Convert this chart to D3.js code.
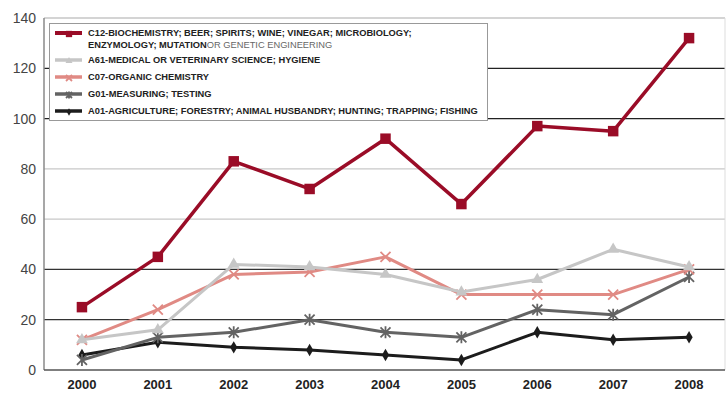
<!DOCTYPE html>
<html>
<head>
<meta charset="utf-8">
<script src="https://cdn.jsdelivr.net/npm/d3@7"></script>
<style>
  body { margin: 0; background: #fff; }
  svg { display: block; font-family: "Liberation Sans", Arial, sans-serif; }
</style>
</head>
<body>
<div class="chart"></div>
<script>
// data
const years = ["2000", "2001", "2002", "2003", "2004", "2005", "2006", "2007", "2008"];
const c12 = [25, 45, 83, 72, 92, 66, 97, 95, 132];
const a61 = [12, 16, 42, 41, 38, 31, 36, 48, 41];
const c07 = [12, 24, 38, 39, 45, 30, 30, 30, 40];
const g01 = [4, 13, 15, 20, 15, 13, 24, 22, 37];
const a01 = [6, 11, 9, 8, 6, 4, 15, 12, 13];
const yTicks = [0, 20, 40, 60, 80, 100, 120, 140];

const series = [
    { key: "C12", values: c12, color: "#9a0c27", width: 3.5, marker: "square", size: 110 },
    { key: "A61", values: a61, color: "#c6c6c6", width: 3, marker: "triangle", size: 60 },
    { key: "C07", values: c07, color: "#e08a84", width: 3, marker: "x", size: 5 },
    { key: "G01", values: g01, color: "#636363", width: 3, marker: "star", size: 5 },
    { key: "A01", values: a01, color: "#1c1c1c", width: 3, marker: "diamond", size: 45 }
];

const W = 727, H = 394;
const margin = { top: 18, right: 0, bottom: 24, left: 44 };
const width = W - margin.left - margin.right;
const height = H - margin.top - margin.bottom;

const svg = d3.select(".chart").append("svg")
    .attr("width", W)
    .attr("height", H);
const g = svg.append("g")
    .attr("transform", `translate(${margin.left},${margin.top})`);

const xScale = d3.scaleBand().domain(years).range([0, width]);
const yScale = d3.scaleLinear().domain([0, 140]).range([height, 0]);

// gridlines (the scan shows some darker than others)
const gridColor = { 20: "#333", 40: "#333", 60: "#c8c8c8", 80: "#c8c8c8", 100: "#222", 120: "#222", 140: "#aaa" };
g.selectAll(".grid")
    .data(yTicks.filter(d => d > 0))
    .enter().append("line")
    .attr("class", "grid")
    .attr("x1", 0).attr("x2", width - 2)
    .attr("y1", d => yScale(d)).attr("y2", d => yScale(d))
    .attr("stroke", d => gridColor[d])
    .attr("stroke-width", 1.2);

// right edge and left axis
g.append("line")
    .attr("x1", width - 2).attr("x2", width - 2)
    .attr("y1", 0).attr("y2", height)
    .attr("stroke", "#ddd");
g.append("line")
    .attr("x1", 0).attr("x2", 0)
    .attr("y1", 0).attr("y2", height)
    .attr("stroke", "#8a8a8a").attr("stroke-width", 1.5);
g.append("line")
    .attr("x1", 0).attr("x2", width - 2)
    .attr("y1", height).attr("y2", height)
    .attr("stroke", "#555").attr("stroke-width", 1.5);

// y tick labels
g.append("g")
    .call(d3.axisLeft(yScale).tickValues(yTicks).tickSize(0).tickPadding(8))
    .call(a => a.select(".domain").remove())
    .selectAll("text")
    .style("font-size", "14px")
    .style("font-family", "Liberation Sans, Arial, sans-serif")
    .attr("fill", "#444");

// x tick labels
g.append("g")
    .attr("transform", `translate(0,${height})`)
    .call(d3.axisBottom(xScale).tickSize(0).tickPadding(10))
    .call(a => a.select(".domain").remove())
    .selectAll("text")
    .style("font-size", "13px")
    .style("font-weight", "bold")
    .style("font-family", "Liberation Sans, Arial, sans-serif")
    .attr("fill", "#222");

function drawMarker(sel, s, scale) {
    const k = scale || 1;
    if (s.marker === "square" || s.marker === "triangle" || s.marker === "diamond") {
        const type = { square: d3.symbolSquare, triangle: d3.symbolTriangle, diamond: d3.symbolDiamond }[s.marker];
        sel.append("path")
            .attr("d", d3.symbol().type(type).size(s.size * k * k)())
            .attr("fill", s.color);
    } else {
        const r = s.size * k;
        let p = `M${-r},${-r}L${r},${r}M${-r},${r}L${r},${-r}`;
        if (s.marker === "star") p += `M0,${-r * 1.2}L0,${r * 1.2}`;
        sel.append("path")
            .attr("d", p)
            .attr("stroke", s.color)
            .attr("stroke-width", 1.8)
            .attr("fill", "none");
    }
}

const line = d3.line()
    .x((d, i) => xScale(years[i]) + xScale.bandwidth() / 2)
    .y(d => yScale(d));

// draw back to front
series.slice().reverse().forEach(s => {
    g.append("path")
        .datum(s.values)
        .attr("d", line)
        .attr("fill", "none")
        .attr("stroke", s.color)
        .attr("stroke-width", s.width)
        .attr("stroke-linejoin", "round");
    g.selectAll(".pt-" + s.key)
        .data(s.values)
        .enter().append("g")
        .attr("class", "pt-" + s.key)
        .attr("transform", (d, i) => `translate(${xScale(years[i]) + xScale.bandwidth() / 2},${yScale(d)})`)
        .each(function () { drawMarker(d3.select(this), s); });
});

// legend
const legendLabels = [
    ["C12-BIOCHEMISTRY; BEER; SPIRITS; WINE; VINEGAR; MICROBIOLOGY;", "ENZYMOLOGY; MUTATION", "OR GENETIC ENGINEERING"],
    ["A61-MEDICAL OR VETERINARY SCIENCE; HYGIENE"],
    ["C07-ORGANIC CHEMISTRY"],
    ["G01-MEASURING; TESTING"],
    ["A01-AGRICULTURE; FORESTRY; ANIMAL HUSBANDRY; HUNTING; TRAPPING; FISHING"]
];
const legendRowY = [33, 60, 77, 94, 111];

svg.append("rect")
    .attr("x", 49.5).attr("y", 23.5)
    .attr("width", 438).attr("height", 97)
    .attr("fill", "#fff")
    .attr("stroke", "#999");

series.forEach((s, i) => {
    const lg = svg.append("g").attr("transform", `translate(0,${legendRowY[i]})`);
    lg.append("line")
        .attr("x1", 55).attr("x2", 82)
        .attr("stroke", s.color)
        .attr("stroke-width", s.width + 0.5);
    const mk = lg.append("g").attr("transform", "translate(69,1)");
    drawMarker(mk, s, 0.6);
    const t = lg.append("text")
        .attr("x", 88).attr("y", 3)
        .style("font-size", "9.3px")
        .style("font-weight", "bold")
        .attr("fill", "#222")
        .text(legendLabels[i][0]);
    if (legendLabels[i].length > 1) {
        const t2 = lg.append("text")
            .attr("x", 88).attr("y", 15)
            .style("font-size", "9.3px")
            .attr("fill", "#222");
        t2.append("tspan").style("font-weight", "bold").text(legendLabels[i][1]);
        t2.append("tspan").attr("fill", "#666").text(legendLabels[i][2]);
    }
});
</script>
</body>
</html>
